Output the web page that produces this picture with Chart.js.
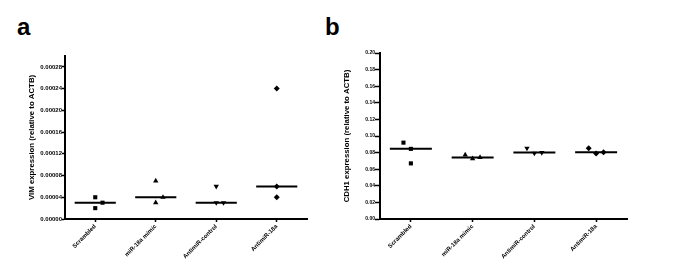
<!DOCTYPE html>
<html><head><meta charset="utf-8">
<script src="https://cdn.jsdelivr.net/npm/chart.js@4"></script>
<style>
html,body{margin:0;padding:0;background:#fff;width:685px;height:280px;overflow:hidden;font-family:"Liberation Sans",Arial,sans-serif}
.letter{position:absolute;font-weight:bold;font-size:24px;color:#000;line-height:24px}
#wa{position:absolute;left:0;top:0;width:320px;height:280px}
#wb{position:absolute;left:330px;top:0;width:355px;height:280px}
</style></head><body>
<div class="letter" style="left:17px;top:15px">a</div>
<div class="letter" style="left:325px;top:15px">b</div>
<div id="wa"><canvas id="ca"></canvas></div>
<div id="wb"><canvas id="cb"></canvas></div>
<script>
// ---- data ----
const categories = ['Scrambled', 'miR-18a mimic', 'AntimiR-control', 'AntimiR-18a'];

// Panel a: VIM expression (relative to ACTB)
const vimScrambled = [0.00004, 0.00002, 0.00003];
const vimMimic     = [0.00007, 0.00003, 0.00004];
const vimControl   = [0.00006, 0.00003, 0.00003];
const vimAntimiR   = [0.00024, 0.00006, 0.00004];
const vimJitter    = [[0, 0, 0.12], [0, 0, 0.12], [0, 0, 0.12], [0, 0, 0]];
const vimTicks     = [0, 0.00004, 0.00008, 0.00012, 0.00016, 0.00020, 0.00024, 0.00028];

// Panel b: CDH1 expression (relative to ACTB)
const cdhScrambled = [0.092, 0.0845, 0.067];
const cdhMimic     = [0.0773, 0.0728, 0.0742];
const cdhControl   = [0.0853, 0.0793, 0.0800];
const cdhAntimiR   = [0.0853, 0.0788, 0.0805];
const cdhJitter    = [[-0.12, 0, 0], [-0.12, 0, 0.12], [-0.12, 0, 0.12], [-0.12, 0, 0.12]];
const cdhTicks     = [0, 0.02, 0.04, 0.06, 0.08, 0.10, 0.12, 0.14, 0.16, 0.18, 0.20];

// ---- styling ----
const FONT = '"Liberation Sans", Arial, sans-serif';
const markers = [
  {style: 'rect', rot: 0, r: 2.9},
  {style: 'triangle', rot: 0, r: 3.1},
  {style: 'triangle', rot: 180, r: 3.1},
  {style: 'rectRot', rot: 0, r: 3.0}
];
const MEDIAN_HALF = 0.34;

function median(a) {
  const s = a.slice().sort((p, q) => p - q);
  return s[Math.floor(s.length / 2)];
}

function buildDatasets(groups, jitter) {
  const ds = [];
  groups.forEach((vals, i) => {
    const m = markers[i];
    ds.push({
      data: vals.map((v, k) => ({x: i + jitter[i][k], y: v})),
      showLine: false,
      pointStyle: m.style,
      rotation: m.rot,
      pointRadius: m.r,
      backgroundColor: '#000',
      borderColor: '#000',
      borderWidth: 0
    });
    const med = median(vals);
    ds.push({
      data: [{x: i - MEDIAN_HALF, y: med}, {x: i + MEDIAN_HALF, y: med}],
      showLine: true,
      pointRadius: 0,
      borderColor: '#000',
      borderWidth: 2,
      tension: 0
    });
  });
  return ds;
}

function makeChart(id, groups, jitter, yTicks, yMax, decimals, title, cfg) {
  return new Chart(document.getElementById(id), {
    type: 'scatter',
    data: {datasets: buildDatasets(groups, jitter)},
    options: {
      animation: false,
      responsive: true,
      maintainAspectRatio: false,
      events: [],
      layout: {padding: {left: 0, top: cfg.top, right: cfg.right, bottom: 0}},
      plugins: {legend: {display: false}, tooltip: {enabled: false}},
      scales: {
        x: {
          type: 'linear', min: -0.5, max: 3.5,
          afterBuildTicks: s => { s.ticks = categories.map((c, i) => ({value: i})); },
          afterFit: s => { s.height = cfg.xh; },
          ticks: {
            callback: v => categories[v],
            minRotation: 45, maxRotation: 45, autoSkip: false,
            font: {family: FONT, size: 6, weight: 'bold'}, color: '#000', padding: 1
          },
          grid: {drawOnChartArea: false, drawTicks: true, tickLength: 3, tickColor: '#000', tickWidth: 1.5},
          border: {display: true, color: '#000', width: 2}
        },
        y: {
          min: 0, max: yMax,
          afterBuildTicks: s => { s.ticks = yTicks.map(v => ({value: v})); },
          afterFit: s => { s.width = cfg.yw; },
          title: {
            display: true, text: title, color: '#000',
            font: {family: FONT, size: 7.8, weight: 'bold'},
            padding: {top: cfg.tpad, bottom: 0}
          },
          ticks: {
            callback: v => Number(v).toFixed(decimals),
            font: {family: FONT, size: cfg.tfs, weight: 'bold'}, color: '#000', padding: 0
          },
          grid: {drawOnChartArea: false, drawTicks: true, tickLength: cfg.tl, tickColor: '#000', tickWidth: 1.5},
          border: {display: true, color: '#000', width: 2}
        }
      }
    }
  });
}

makeChart('ca', [vimScrambled, vimMimic, vimControl, vimAntimiR], vimJitter, vimTicks, 0.0003, 5,
  'VIM expression (relative to ACTB)', {top: 56, right: 13, xh: 61, yw: 65, tpad: 27, tfs: 6, tl: 3});
makeChart('cb', [cdhScrambled, cdhMimic, cdhControl, cdhAntimiR], cdhJitter, cdhTicks, 0.2, 2,
  'CDH1 expression (relative to ACTB)', {top: 53, right: 58, xh: 61, yw: 50, tpad: 12, tfs: 5, tl: 5});
</script>
</body></html>
